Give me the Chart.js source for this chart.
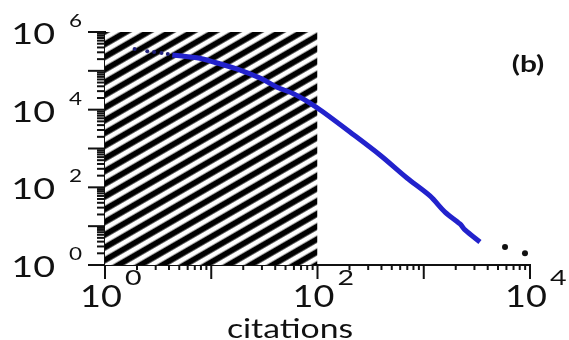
<html>
<head>
  <title></title>
</head>
<body style="margin:0;background:#fff">
  <div style="width:569px;height:340px">
  <canvas id="myChart"></canvas>
</div>

<script src="https://cdn.jsdelivr.net/npm/chart.js"></script>

<script>
  // values
  const headCitations = [1.9, 2.5, 2.9, 3.4, 3.9]
  const headCounts = [3.66e5, 3.2e5, 3.05e5, 2.9e5, 2.7e5]
  const curveCitations = [4.3, 5.3, 6.3, 7.8, 9.7, 18.7, 28.8, 41.6, 58.8, 85, 113, 202, 387, 695, 1145, 1585, 2195, 2445, 3380]
  const curveCounts = [2.57e5, 2.4e5, 2.27e5, 2.1e5, 1.8e5, 1.05e5, 6.5e4, 3.8e4, 2.6e4, 1.48e4, 8.7e3, 2660, 680, 174, 60, 23, 11.4, 8, 3.9]
  const tailCitations = [5820, 8970]
  const tailCounts = [2.9, 2.0]
  const hatchFrom = 1, hatchTo = 100
  const xTickValues = [1, 100, 10000]
  const yTickValues = [1, 100, 10000, 1000000]
  const xTitle = 'citations'
  const panelTag = '(b)'

  const pts = (xs, ys) => xs.map((v, i) => ({x: v, y: ys[i]}))

  // diagonal stripes for the shaded citation range
  const tile = document.createElement('canvas')
  tile.width = 11; tile.height = 11
  const tctx = tile.getContext('2d')
  tctx.fillStyle = '#fff'; tctx.fillRect(0, 0, 11, 11)
  tctx.fillStyle = '#000'; tctx.fillRect(0, 0, 11, 5)
  tctx.fillStyle = '#555'; tctx.fillRect(0, 5, 11, 1)
  tctx.fillStyle = '#aaa'; tctx.fillRect(0, 10, 11, 1)
  const stripes = tctx.createPattern(tile, 'repeat')
  stripes.setTransform(new DOMMatrix().rotate(-30))

  const FONT = 'Lato, "Open Sans", sans-serif'

  function stretchText(ctx, txt, x, y, size, sx, align, weight) {
    ctx.save()
    ctx.font = (weight || 'normal') + ' ' + size + 'px ' + FONT
    ctx.textAlign = align
    ctx.textBaseline = 'alphabetic'
    ctx.translate(x, y)
    ctx.scale(sx, 1)
    ctx.fillText(txt, 0, 0)
    const w = ctx.measureText(txt).width * sx
    ctx.restore()
    return w
  }

  const decor = {
    id: 'decor',
    afterDraw(chart) {
      const {ctx, scales: {x, y}, chartArea: a} = chart
      ctx.save()
      ctx.strokeStyle = '#111'
      ctx.fillStyle = '#111'
      ctx.lineWidth = 2
      const seg = (x1, y1, x2, y2) => { ctx.beginPath(); ctx.moveTo(x1, y1); ctx.lineTo(x2, y2); ctx.stroke() }
      // x ticks
      for (let e = 0; e <= 4; e++) {
        for (let m = 1; m <= 9; m++) {
          const v = m * Math.pow(10, e)
          if (v > x.max) break
          const px = x.getPixelForValue(v)
          seg(px, a.bottom, px, a.bottom + (m === 1 ? 14 : 5))
        }
      }
      // y ticks
      for (let e = 0; e <= 6; e++) {
        for (let m = 1; m <= 9; m++) {
          const v = m * Math.pow(10, e)
          if (v > y.max) break
          const py = y.getPixelForValue(v)
          seg(a.left, py, a.left - (m === 1 ? 17 : 8), py)
        }
      }
      // tick labels as 10 with a raised exponent
      xTickValues.forEach(v => {
        const px = x.getPixelForValue(v) - 4
        const w = stretchText(ctx, '10', px, 307, 30, 1.2, 'center')
        stretchText(ctx, String(Math.round(Math.log10(v))), px + w / 2 + 3, 285, 22, 1.3, 'left')
      })
      yTickValues.forEach(v => {
        const py = y.getPixelForValue(v)
        stretchText(ctx, '10', a.left - 50, py + 12, 29, 1.3, 'right')
        stretchText(ctx, String(Math.round(Math.log10(v))), a.left - 36, py - 5, 18, 1.25, 'left')
      })
      stretchText(ctx, xTitle, 290, 338, 27, 1.25, 'center')
      stretchText(ctx, panelTag, 528, 72, 23, 1.3, 'center', 'bold')
      ctx.restore()
    }
  }

  const ctx = document.getElementById('myChart')
  new Chart(ctx, {
    type: 'line',
    data: {
      datasets: [
        {
          label: 'head',
          data: pts(headCitations, headCounts),
          showLine: false,
          pointRadius: 2,
          pointBackgroundColor: '#20207a',
          pointBorderWidth: 0
        },
        {
          label: 'distribution',
          data: pts(curveCitations, curveCounts),
          borderColor: '#2222cc',
          borderWidth: 5,
          tension: 0.3,
          pointRadius: 0,
          fill: false
        },
        {
          label: 'tail',
          data: pts(tailCitations, tailCounts),
          showLine: false,
          pointRadius: 3,
          pointBackgroundColor: '#111',
          pointBorderWidth: 0
        },
        {
          label: 'shaded',
          data: [{x: hatchFrom, y: 1e6}, {x: hatchTo, y: 1e6}],
          fill: 'start',
          backgroundColor: stripes,
          borderWidth: 0,
          pointRadius: 0
        }
      ]
    },
    options: {
      responsive: true,
      maintainAspectRatio: false,
      animation: false,
      layout: {padding: {left: 105, top: 32, right: 39, bottom: 75}},
      plugins: {legend: {display: false}, tooltip: {enabled: false}},
      scales: {
        x: {
          type: 'logarithmic',
          min: 1,
          max: 10000,
          grid: {display: false, drawTicks: false},
          border: {display: true, color: '#111', width: 2},
          ticks: {display: false}
        },
        y: {
          type: 'logarithmic',
          min: 1,
          max: 1000000,
          grid: {display: false, drawTicks: false},
          border: {display: true, color: '#111', width: 2},
          ticks: {display: false}
        }
      }
    },
    plugins: [decor]
  });
</script>

</body>
</html>
